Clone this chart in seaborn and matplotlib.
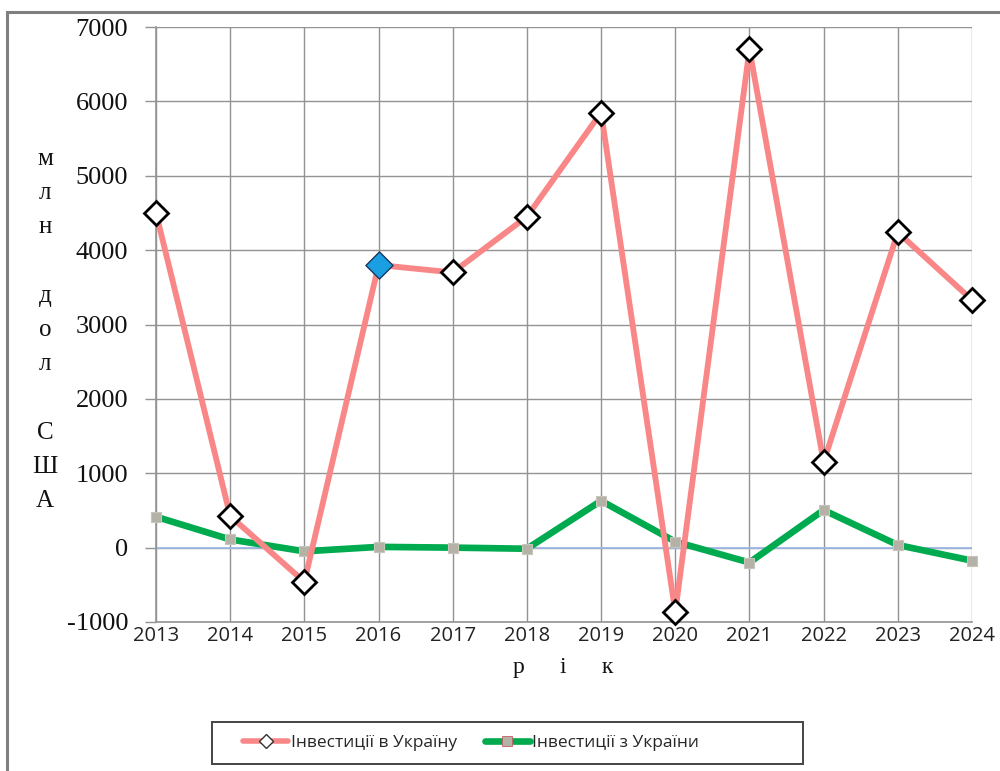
import matplotlib
matplotlib.use("Agg")
import matplotlib.pyplot as plt
from matplotlib.patches import Rectangle
from matplotlib.lines import Line2D
import seaborn as sns
import pandas as pd

# Data (млн дол. США)
years = [2013, 2014, 2015, 2016, 2017, 2018, 2019, 2020, 2021, 2022, 2023, 2024]
invest_in = [4500, 425, -460, 3800, 3700, 4450, 5850, -865, 6700, 1150, 4240, 3330]
invest_out = [415, 110, -50, 10, 0, -15, 630, 80, -200, 505, 35, -175]
y_ticks = [-1000, 0, 1000, 2000, 3000, 4000, 5000, 6000, 7000]
label_in = "Інвестиції в Україну"
label_out = "Інвестиції з України"
highlight_year = 2016

df = pd.DataFrame({"year": years, "in": invest_in, "out": invest_out})

sns.set_theme(style="white")
plt.rcParams["font.family"] = ["Liberation Serif", "DejaVu Serif"]
plt.rcParams["axes.unicode_minus"] = False

fig = plt.figure(figsize=(10, 7.71), dpi=100)
W, H = 1000, 771
ax = fig.add_axes([156 / W, 1 - 622 / H, (972 - 156) / W, (622 - 27) / H])

# outer chart frame
fig.patches.append(Rectangle((7 / W, -0.1), 1.2, 1 - 12 / H + 0.1,
                             transform=fig.transFigure, fill=False,
                             edgecolor="#7f7f7f", linewidth=2.2, zorder=0))

pink = "#FA8787"
green = "#00AA4E"
grid_c = "#939393"

ax.set_xlim(2013, 2024)
ax.set_ylim(-1000, 7000)
ax.set_yticks(y_ticks)
ax.set_yticklabels([str(v) for v in y_ticks])
ax.set_xticks(years)
ax.set_xticklabels([str(y) for y in years])
ax.grid(True, color=grid_c, linewidth=1.0)
ax.set_axisbelow(True)
for s in ["top", "right"]:
    ax.spines[s].set_visible(False)
for s in ["left", "bottom"]:
    ax.spines[s].set_color(grid_c)
    ax.spines[s].set_linewidth(1.2)

ax.axhline(0, color="#9DB8E6", linewidth=1.3, zorder=1)

sns.lineplot(data=df, x="year", y="out", ax=ax, color=green, linewidth=4.8,
             marker="s", markersize=7.5, markerfacecolor="#B4B1A6",
             markeredgecolor="#C8C4BA", markeredgewidth=0.8, zorder=3,
             legend=False, clip_on=False)
sns.lineplot(data=df, x="year", y="in", ax=ax, color=pink, linewidth=4.2,
             marker="D", markersize=12, markerfacecolor="white",
             markeredgecolor="black", markeredgewidth=2.0, zorder=4,
             legend=False, clip_on=False)
hl = df[df["year"] == highlight_year]
sns.scatterplot(data=hl, x="year", y="in", ax=ax, marker="D", s=190,
                color="#1A9FE3", edgecolor="#1f3f66", linewidth=1.0,
                zorder=5, legend=False, clip_on=False)

ax.tick_params(axis="y", which="both", left=True, length=8, color=grid_c,
               width=1.0, pad=12, labelsize=19,
               labelfontfamily="Liberation Serif", labelcolor="#111111")
ax.tick_params(axis="x", which="both", bottom=True, length=0, pad=3,
               labelsize=14.5, labelfontfamily="Open Sans",
               labelcolor="#222222")
ax.set_xlabel("")
ax.set_ylabel("")

# axis titles
fig.text(563 / W, 1 - 668 / H, "р      і      к", ha="center", va="center",
         fontsize=17, family=["Liberation Serif"], color="#111111")
fig.text(45 / W, 1 - 330 / H, "м\nл\nн\n\nд\nо\nл\n\nС\nШ\nА",
         ha="center", va="center", fontsize=18, linespacing=1.72,
         family=["Liberation Serif"], color="#111111")

handles = [
    Line2D([], [], color=pink, linewidth=4.0, marker="D", markersize=7,
           markerfacecolor="white", markeredgecolor="#333333",
           markeredgewidth=1.0),
    Line2D([], [], color=green, linewidth=4.8, marker="s", markersize=7,
           markerfacecolor="#B4B1A6", markeredgecolor="#C06060",
           markeredgewidth=0.6),
]
leg = fig.legend(handles, [label_in, label_out], loc="center left",
                 bbox_to_anchor=(243 / W, 1 - 743 / H), ncol=2,
                 frameon=False, handlelength=2.6, borderaxespad=0,
                 borderpad=0, handletextpad=0.15, columnspacing=1.6,
                 prop={"family": ["Open Sans", "DejaVu Sans"], "size": 12.5})
# legend box
fig.patches.append(Rectangle((212 / W, 1 - 764 / H), (803 - 212) / W,
                             (764 - 722) / H, transform=fig.transFigure,
                             fill=True, facecolor="white",
                             edgecolor="#444444", linewidth=1.4, zorder=1))

fig.savefig("out.png", dpi=100)
